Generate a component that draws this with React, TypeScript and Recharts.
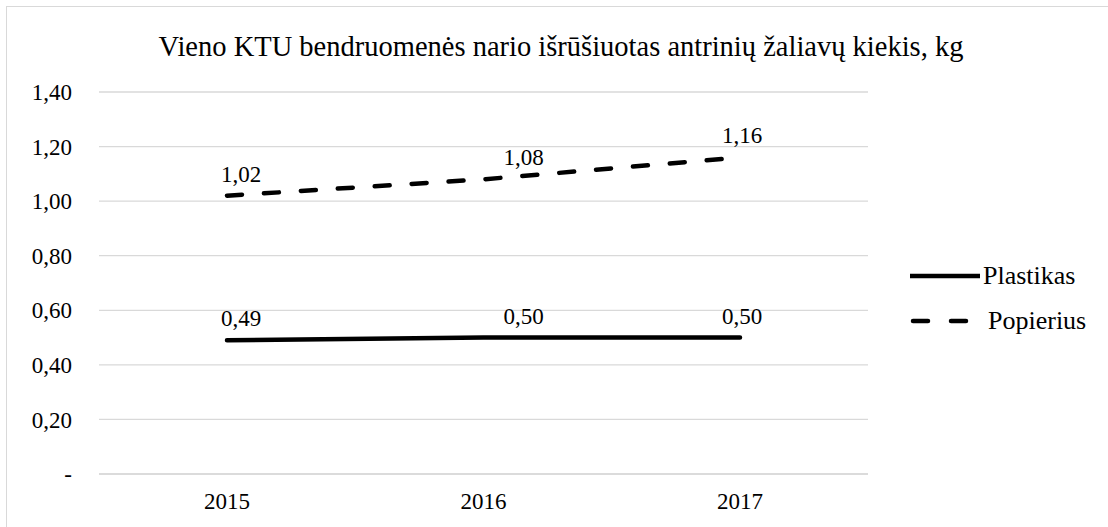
import React from "react";
import { LineChart, Line, XAxis, YAxis, CartesianGrid, Legend, LabelList } from "recharts";

const years = ["2015", "2016", "2017"];
const plastikas = [0.49, 0.5, 0.5];
const popierius = [1.02, 1.08, 1.16];
const yTicks = [0, 0.2, 0.4, 0.6, 0.8, 1.0, 1.2, 1.4];

const data = years.map((year, i) => ({
  year,
  Plastikas: plastikas[i],
  Popierius: popierius[i],
}));

const FONT = "'Times New Roman', 'Liberation Serif', serif";
const GRID = "#d9d9d9";

const fmt = (v: number) => (v === 0 ? "-" : v.toFixed(2).replace(".", ","));

// Excel labels were nudged by hand a little to the right of each point
const labelShift = [14, 40, 2];

const ValueLabel = (props: any) => {
  const { x, y, value, index } = props;
  return (
    <text
      x={x + (labelShift[index] ?? 0)}
      y={y - 14}
      textAnchor="middle"
      fontSize={23}
      fontFamily={FONT}
      fill="#000"
    >
      {fmt(value)}
    </text>
  );
};

const LegendBox = () => (
  <div style={{ fontFamily: FONT, fontSize: 26, color: "#000", textAlign: "left" }}>
    <div style={{ display: "flex", alignItems: "center", height: 45 }}>
      <svg width={74} height={10} style={{ flex: "none" }}>
        <line x1={2} y1={5} x2={72} y2={5} stroke="#000" strokeWidth={4.5} />
      </svg>
      <span style={{ marginLeft: 1 }}>Plastikas</span>
    </div>
    <div style={{ display: "flex", alignItems: "center", height: 45 }}>
      <svg width={80} height={10} style={{ flex: "none" }}>
        <line x1={5} y1={5} x2={20} y2={5} stroke="#000" strokeWidth={4.5} strokeLinecap="round" />
        <line x1={43} y1={5} x2={58} y2={5} stroke="#000" strokeWidth={4.5} strokeLinecap="round" />
      </svg>
      <span>Popierius</span>
    </div>
  </div>
);

export default function App() {
  return (
    <div style={{ position: "absolute", left: 0, top: 0, width: 1108, height: 527, overflow: "hidden", background: "#fff" }}>
      <div
        style={{
          position: "absolute",
          left: 6,
          top: 6,
          width: 1102,
          height: 521,
          borderTop: `1px solid ${GRID}`,
          borderLeft: `1px solid ${GRID}`,
        }}
      >
        <div
          style={{
            position: "absolute",
            left: -7,
            top: 24,
            width: 1122,
            textAlign: "center",
            fontFamily: FONT,
            fontSize: 28.5,
            lineHeight: "32px",
            color: "#000",
            whiteSpace: "nowrap",
          }}
        >
          Vieno KTU bendruomenės nario išrūšiuotas antrinių žaliavų kiekis, kg
        </div>
        <LineChart
          width={1101}
          height={520}
          data={data}
          margin={{ top: 85, right: 240, bottom: 23, left: 0 }}
          style={{ fontFamily: FONT }}
        >
          <CartesianGrid vertical={false} stroke={GRID} strokeWidth={1.3} />
          <XAxis
            dataKey="year"
            height={30}
            padding={{ left: 128, right: 128 }}
            axisLine={{ stroke: GRID, strokeWidth: 1.3 }}
            tickLine={false}
            tickSize={0}
            tickMargin={19}
            tick={{ fontSize: 23, fontFamily: FONT, fill: "#000" }}
          />
          <YAxis
            width={92}
            domain={[0, 1.4]}
            ticks={yTicks}
            tickFormatter={fmt}
            axisLine={false}
            tickLine={false}
            tickSize={0}
            tickMargin={27}
            tick={{ fontSize: 23, fontFamily: FONT, fill: "#000" }}
          />
          <Legend
            layout="horizontal"
            align="center"
            verticalAlign="middle"
            content={<LegendBox />}
            wrapperStyle={{ position: "absolute", left: 901, top: 246, width: 200, height: 90 }}
          />
          <Line
            dataKey="Plastikas"
            stroke="#000"
            strokeWidth={4.5}
            strokeLinecap="round"
            dot={false}
            activeDot={false}
            isAnimationActive={false}
          >
            <LabelList dataKey="Plastikas" content={<ValueLabel />} />
          </Line>
          <Line
            dataKey="Popierius"
            stroke="#000"
            strokeWidth={4.5}
            strokeDasharray="15 22"
            strokeLinecap="round"
            dot={false}
            activeDot={false}
            isAnimationActive={false}
          >
            <LabelList dataKey="Popierius" content={<ValueLabel />} />
          </Line>
        </LineChart>
      </div>
    </div>
  );
}
